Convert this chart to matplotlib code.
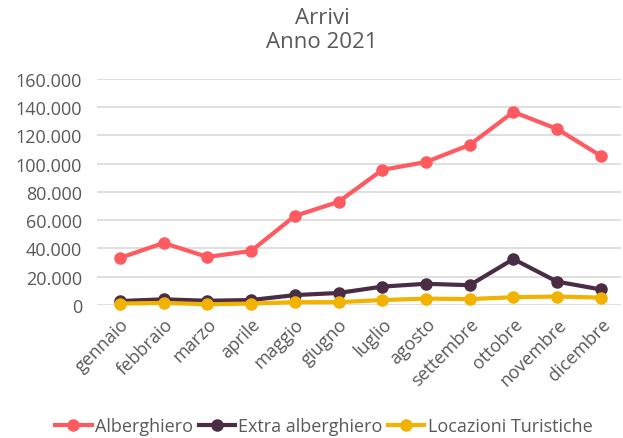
import matplotlib.pyplot as plt
from matplotlib.ticker import FuncFormatter

mesi = ['gennaio', 'febbraio', 'marzo', 'aprile', 'maggio', 'giugno',
        'luglio', 'agosto', 'settembre', 'ottobre', 'novembre', 'dicembre']
alberghiero = [33300, 43900, 34000, 38200, 63000, 73000,
               95600, 101200, 113300, 136600, 124600, 105500]
extra_alberghiero = [2800, 4000, 3000, 3500, 7000, 8500,
                     13000, 15000, 14000, 32500, 16500, 11000]
locazioni = [1000, 1500, 500, 1000, 2000, 2000,
             3500, 4500, 4200, 5500, 6000, 5200]

grey = '#595959'
plt.rcParams['font.family'] = ['Open Sans', 'DejaVu Sans']

fig = plt.figure(figsize=(6.23, 4.39), dpi=100)
ax = fig.add_axes([0.156, 0.303, 0.84, 0.515])

x = range(len(mesi))
ax.plot(x, alberghiero, color='#FF5A5F', lw=3, marker='o', ms=8, label='Alberghiero')
ax.plot(x, extra_alberghiero, color='#4A2D45', lw=3, marker='o', ms=8, label='Extra alberghiero')
ax.plot(x, locazioni, color='#F2B200', lw=3, marker='o', ms=8, label='Locazioni Turistiche')

ax.set_ylim(0, 160000)
ax.set_xlim(-0.52, 11.45)
ax.set_yticks(range(0, 160001, 20000))
ax.yaxis.set_major_formatter(FuncFormatter(lambda v, p: f'{int(v):,}'.replace(',', '.')))
ax.set_xticks(list(x))
ax.set_xticklabels(mesi, rotation=45, ha='right', rotation_mode='anchor')
ax.tick_params(axis='both', length=0, labelsize=13, colors=grey)
ax.tick_params(axis='y', pad=11)
ax.tick_params(axis='x', pad=7)
ax.grid(axis='y', color='#d9d9d9', lw=1.2)
ax.set_axisbelow(True)
for s in ax.spines.values():
    s.set_visible(False)
for ln in ax.lines:
    ln.set_clip_on(False)

fig.text(0.517, 0.93, 'Arrivi\nAnno 2021', ha='center', va='center',
         fontsize=16, color=grey, linespacing=1.2)

fig.legend(loc='center', bbox_to_anchor=(0.52, 0.027), ncol=3, frameon=False,
           fontsize=13, labelcolor=grey, handlelength=2.0, columnspacing=0.3,
           handletextpad=0.2, borderaxespad=0)

fig.savefig('out.png', dpi=100)
